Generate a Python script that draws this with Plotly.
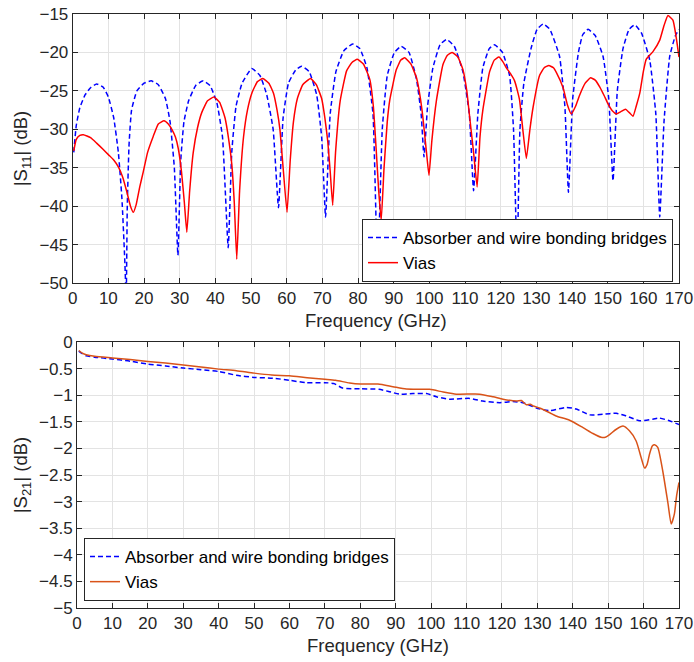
import plotly.graph_objects as go

# ---- |S11| data (GHz, dB) ----
s11_abs_f = [0.3, 1.0, 2.0, 3.5, 5.0, 6.7, 8.5, 10.0, 11.5, 12.8, 13.8, 14.6, 15.0, 15.3, 15.8, 16.5,
             18.0, 20.0, 22.0, 24.0, 26.0, 27.3, 28.5, 29.5, 30.3, 31.2, 32.5, 34.5, 36.6, 38.5,
             40.4, 42.0, 43.6, 44.6, 45.8, 47.5, 50.2, 52.5, 54.4, 56.2, 57.7, 59.0, 60.5, 62.5,
             64.2, 66.3, 68.4, 69.8, 70.9, 72.2, 73.8, 76.0, 78.5, 80.5, 82.5, 84.2, 85.5, 86.8,
             88.2, 90.2, 92.1, 94.3, 96.4, 97.7, 98.5, 99.5, 101.0, 103.0, 104.8, 107.0, 109.4,
             111.2, 112.4, 113.6, 115.0, 116.8, 118.3, 120.5, 122.5, 123.6, 124.6, 125.4, 126.5,
             128.5, 130.2, 131.9, 133.8, 136.5, 138.0, 139.0, 140.2, 141.8, 143.0, 144.5, 146.5,
             148.7, 150.3, 151.5, 152.7, 154.3, 156.0, 157.6, 159.5, 161.8, 163.5, 164.6, 165.8,
             167.4, 169.0, 170.0]
s11_abs_db = [-33.0, -29.5, -27.2, -25.5, -24.6, -24.1, -24.5, -25.8, -28.5, -33.0, -39.0, -47.0, -52.0,
              -40.0, -32.0, -27.5, -25.0, -24.0, -23.7, -24.2, -26.0, -29.0, -35.0, -46.4, -34.0,
              -29.0, -26.3, -24.3, -23.7, -24.3, -26.5, -31.0, -45.4, -33.0, -27.0, -24.0, -22.1,
              -23.0, -25.5, -30.0, -40.2, -28.5, -24.0, -22.3, -21.8, -22.5, -25.5, -31.0, -41.4,
              -28.0, -22.5, -19.8, -18.9, -19.5, -22.0, -28.0, -48.8, -30.0, -23.0, -20.0, -19.2,
              -20.0, -23.5, -28.0, -33.6, -27.0, -22.0, -19.0, -18.3, -19.2, -22.5, -28.0, -38.0,
              -28.0, -22.0, -19.5, -19.0, -20.0, -23.0, -30.0, -47.0, -30.0, -24.0, -19.5, -17.0,
              -16.3, -17.0, -20.5, -27.0, -38.2, -26.0, -20.0, -17.7, -17.0, -17.8, -20.5, -26.0,
              -36.7, -25.0, -19.5, -17.0, -16.4, -17.5, -21.0, -28.0, -41.4, -29.0, -20.5, -17.8,
              -17.0]

s11_via_f = [0.3, 1.0, 2.0, 3.0, 5.0, 6.7, 8.5, 10.0, 11.5, 12.8, 14.0, 15.1, 16.2, 17.0, 17.8, 18.8,
             19.8, 21.0, 22.6, 24.0, 25.6, 26.8, 27.8, 28.8, 29.6, 30.5, 31.3, 32.0, 32.8, 33.8,
             35.0, 36.2, 37.8, 39.6, 41.2, 42.7, 43.8, 44.6, 45.3, 46.0, 46.8, 47.9, 49.0, 50.3,
             51.8, 53.3, 55.0, 56.3, 57.3, 58.1, 59.0, 60.1, 61.0, 61.9, 63.0, 64.5, 66.7, 68.3,
             69.8, 70.7, 71.5, 72.2, 72.9, 73.7, 75.0, 76.8, 78.3, 79.8, 81.5, 83.3, 84.3, 85.1,
             85.8, 86.5, 87.3, 88.2, 88.9, 90.7, 92.0, 93.1, 94.8, 96.4, 97.5, 98.2, 99.2, 99.9,
             100.7, 102.0, 103.8, 105.0, 106.4, 108.0, 109.4, 110.5, 111.3, 112.4, 113.4, 114.2,
             115.0, 116.9, 118.2, 119.5, 120.6, 121.6, 122.8, 123.9, 124.7, 125.3, 126.2, 127.2,
             128.2, 129.1, 130.9, 132.2, 133.5, 134.8, 135.6, 137.5, 138.7, 139.8, 141.0, 142.1,
             143.7, 145.2, 146.5, 147.8, 149.0, 150.1, 151.3, 152.4, 153.7, 155.0, 156.0, 157.1,
             158.0, 159.0, 160.0, 160.8, 162.7, 164.6, 165.8, 166.9, 168.3, 169.2, 170.0]
s11_via_db = [-32.8, -31.3, -30.8, -30.7, -31.1, -31.8, -32.6, -33.3, -34.0, -34.9, -36.2, -38.0, -40.0,
              -40.8, -39.8, -37.5, -35.5, -33.0, -30.9, -29.3, -28.9, -29.3, -30.0, -31.0, -32.5,
              -35.5, -39.5, -43.4, -38.0, -33.0, -29.8, -27.8, -26.3, -25.8, -26.5, -28.5, -31.5,
              -34.5, -39.5, -46.9, -38.0, -31.0, -27.5, -25.2, -23.8, -23.4, -24.0, -25.3, -27.5,
              -30.0, -35.0, -40.8, -34.0, -29.0, -26.0, -24.2, -23.4, -24.2, -26.0, -28.5, -31.5,
              -35.5, -39.9, -33.0, -26.3, -22.4, -21.3, -20.9, -21.5, -23.5, -27.0, -32.7, -38.0,
              -41.9, -35.0, -29.0, -26.2, -22.3, -21.0, -20.7, -21.5, -23.3, -26.0, -28.5, -33.0,
              -36.0, -31.5, -26.2, -21.6, -20.4, -20.0, -20.6, -22.2, -25.0, -28.4, -33.0, -37.5,
              -31.0, -27.5, -22.5, -21.0, -20.6, -21.2, -22.0, -22.8, -23.7, -25.0, -26.2, -30.0,
              -33.8, -30.0, -27.1, -23.0, -22.0, -21.7, -22.0, -22.6, -24.6, -26.8, -28.0, -27.0,
              -25.6, -24.0, -23.3, -23.6, -24.5, -25.6, -26.7, -27.6, -28.0, -27.7, -27.4, -27.8,
              -28.3, -27.0, -25.3, -22.5, -20.9, -19.9, -18.4, -16.5, -15.2, -15.8, -18.0, -20.6]

# ---- |S21| data (GHz, dB) ----
s21_abs_f = [0.5, 1.5, 2.6, 5, 10, 15, 20, 25, 30, 35, 40, 45, 50, 55.3, 60, 64.7, 70, 72.5, 75, 80,
             85.3, 88, 91.1, 94.9, 98.7, 101.5, 105.2, 110.9, 114.6, 119.4, 123.1, 125.9, 129.7,
             133.5, 138.2, 141, 144.8, 148.5, 152.3, 155.1, 158.9, 162.6, 164.5, 167.3, 169.2, 170]
s21_abs_db = [-0.17, -0.22, -0.26, -0.285, -0.32, -0.36, -0.415, -0.45, -0.49, -0.52, -0.555, -0.625,
              -0.665, -0.68, -0.72, -0.765, -0.765, -0.78, -0.865, -0.88, -0.89, -0.93, -0.98, -0.97,
              -0.97, -1.03, -1.075, -1.06, -1.11, -1.14, -1.12, -1.14, -1.24, -1.29, -1.23, -1.26,
              -1.37, -1.36, -1.34, -1.39, -1.48, -1.45, -1.43, -1.48, -1.53, -1.55]

s21_via_f = [0.5, 1.5, 2.6, 5, 10, 15, 20, 25, 30, 35, 40, 45, 50, 55, 60, 65, 70, 73, 77, 80, 85,
             89.2, 93, 99.6, 103.4, 107.1, 113.7, 117.5, 120.3, 124.1, 125.5, 126.9, 128, 128.8,
             130.6, 133.5, 135.3, 139.1, 142.9, 145.7, 148, 149.2, 150.4, 152.3, 154.2, 156, 157.9,
             159.3, 160.3, 161, 161.7, 162.5, 163.1, 164, 165.4, 166.9, 167.8, 168.7, 169.3, 170]
s21_via_db = [-0.16, -0.21, -0.24, -0.27, -0.30, -0.33, -0.365, -0.395, -0.43, -0.47, -0.51, -0.54,
              -0.585, -0.62, -0.635, -0.67, -0.70, -0.72, -0.77, -0.79, -0.79, -0.84, -0.885, -0.89,
              -0.94, -0.98, -0.98, -1.03, -1.075, -1.11, -1.10, -1.18, -1.17, -1.20, -1.24, -1.33,
              -1.39, -1.47, -1.61, -1.72, -1.79, -1.79, -1.74, -1.64, -1.58, -1.67, -1.86, -2.17,
              -2.37, -2.30, -2.10, -1.95, -1.93, -1.98, -2.42, -3.04, -3.42, -3.23, -2.90, -2.64]

s11_ticks = [-15, -20, -25, -30, -35, -40, -45, -50]
s21_ticks = [0, -0.5, -1, -1.5, -2, -2.5, -3, -3.5, -4, -4.5, -5]
freq_ticks = list(range(0, 171, 10))

NAME_ABS = "Absorber and wire bonding bridges"
NAME_VIA = "Vias"

W, H = 694, 662
FONT = "Liberation Sans, Arial, sans-serif"
TXT = "#262626"
GRID = "#e3e3e3"

fig = go.Figure()

fig.add_trace(go.Scatter(x=s11_abs_f, y=s11_abs_db, name=NAME_ABS, mode="lines",
                         line=dict(color="#0000ff", width=1.5, dash="5px,3px", shape="spline", smoothing=0.4),
                         xaxis="x", yaxis="y", legend="legend"))
fig.add_trace(go.Scatter(x=s11_via_f, y=s11_via_db, name=NAME_VIA, mode="lines",
                         line=dict(color="#ff0000", width=1.5, shape="spline", smoothing=0.4),
                         xaxis="x", yaxis="y", legend="legend"))
fig.add_trace(go.Scatter(x=s21_abs_f, y=s21_abs_db, name=NAME_ABS, mode="lines",
                         line=dict(color="#0000ff", width=1.5, dash="5px,3px", shape="spline", smoothing=0.6),
                         xaxis="x2", yaxis="y2", legend="legend2"))
fig.add_trace(go.Scatter(x=s21_via_f, y=s21_via_db, name=NAME_VIA, mode="lines",
                         line=dict(color="#d95319", width=1.5, shape="spline", smoothing=0.6),
                         xaxis="x2", yaxis="y2", legend="legend2"))

axis_common = dict(
    automargin=False,
    showgrid=True, gridcolor=GRID, gridwidth=1,
    showline=True, linecolor=TXT, linewidth=1, mirror="ticks",
    ticks="inside", ticklen=5, tickcolor=TXT,
    tickfont=dict(family=FONT, size=17, color=TXT),
    zeroline=False,
)

fig.update_layout(
    width=W, height=H,
    margin=dict(l=0, r=0, t=0, b=0),
    paper_bgcolor="white", plot_bgcolor="white",
    font=dict(family=FONT, color=TXT),
    xaxis=dict(axis_common, domain=[72.7 / W, 679 / W], range=[0, 170], tickvals=freq_ticks,
               anchor="y", title=dict(text="Frequency (GHz)", font=dict(size=18.5, color=TXT), standoff=6)),
    yaxis=dict(axis_common, domain=[1 - 283 / H, 1 - 14 / H], range=[-50, -15], tickvals=s11_ticks,
               anchor="x", title=dict(text="|S<sub>11</sub>| (dB)", font=dict(size=18.5, color=TXT), standoff=6)),
    xaxis2=dict(axis_common, domain=[77 / W, 679 / W], range=[0, 170], tickvals=freq_ticks,
                anchor="y2", title=dict(text="Frequency (GHz)", font=dict(size=18.5, color=TXT), standoff=6)),
    yaxis2=dict(axis_common, domain=[1 - 608 / H, 1 - 342 / H], range=[-5, 0], tickvals=s21_ticks,
                anchor="x2", title=dict(text="|S<sub>21</sub>| (dB)", font=dict(size=18.5, color=TXT), standoff=6)),
    legend=dict(x=673 / W, y=1 - 282 / H, xanchor="right", yanchor="bottom",
                bgcolor="white", bordercolor=TXT, borderwidth=1, itemwidth=30,
                font=dict(family=FONT, size=17, color="black"), tracegroupgap=0),
    legend2=dict(x=84 / W, y=1 - 601 / H, xanchor="left", yanchor="bottom",
                 bgcolor="white", bordercolor=TXT, borderwidth=1, itemwidth=30,
                 font=dict(family=FONT, size=17, color="black"), tracegroupgap=0),
    showlegend=True,
)

# page without body margin so the figure sits at the window origin
page_js = ("document.body.style.margin='0';document.body.style.padding='0';"
           "document.documentElement.style.overflow='hidden';")
fig.write_html("out.html", post_script=page_js)
